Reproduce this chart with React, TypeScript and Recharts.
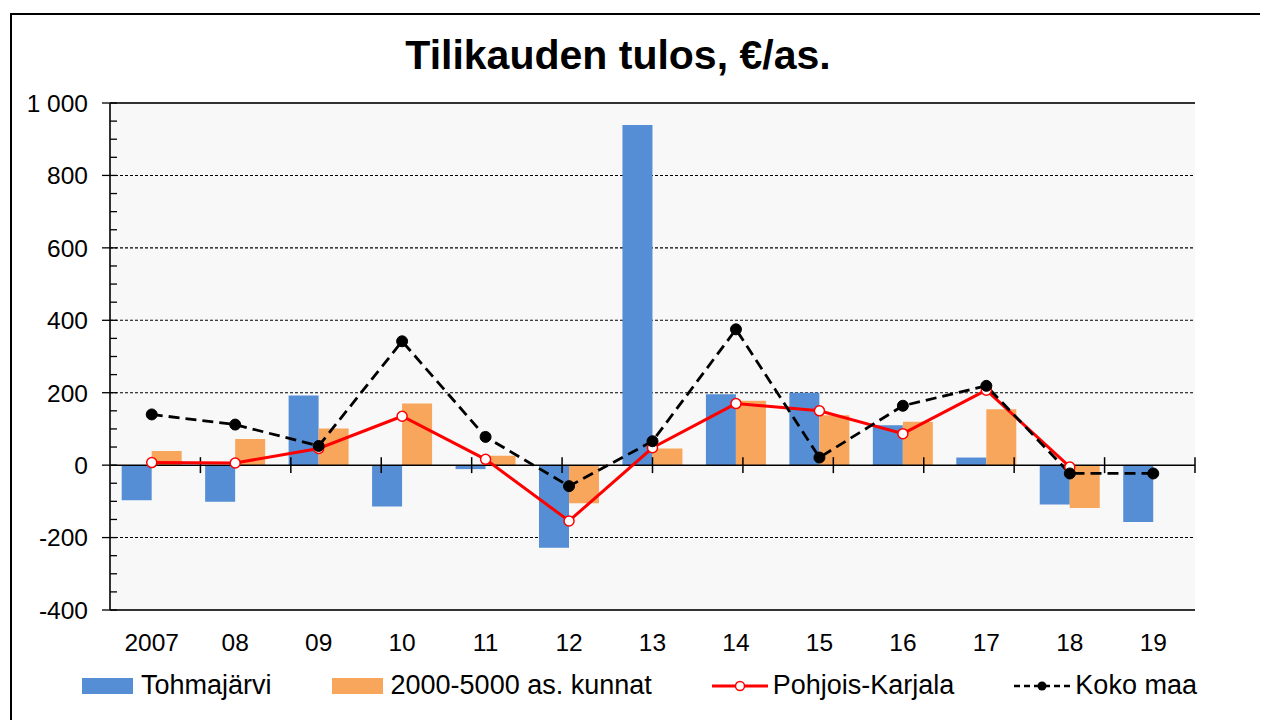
import React from 'react';
import {
  ComposedChart, Bar, Line, XAxis, YAxis, CartesianGrid, ReferenceLine, Legend,
} from 'recharts';

const years = ['2007', '08', '09', '10', '11', '12', '13', '14', '15', '16', '17', '18', '19'];
const tohmajarvi = [-97, -101, 192, -114, -11, -228, 939, 196, 200, 110, 21, -109, -157];
const kunnat = [39, 72, 101, 170, 26, -105, 46, 178, 138, 120, 154, -118, null];
const pohjoisKarjala = [7, 6, 46, 135, 16, -154, 48, 170, 150, 87, 207, -5, null];
const kokoMaa = [140, 112, 53, 342, 78, -58, 66, 375, 21, 164, 219, -23, -23];

const yDomain = [-400, 1000];
const majorTicks = [-400, -200, 0, 200, 400, 600, 800, 1000];
const gridValues = [-200, 200, 400, 600, 800];
const allTicks = [-400, -350, -300, -250, -200, -150, -100, -50, 0, 50, 100, 150, 200, 250, 300, 350, 400,
  450, 500, 550, 600, 650, 700, 750, 800, 850, 900, 950, 1000];
const boundaries = [1, 2, 3, 4, 5, 6, 7, 8, 9, 10, 11, 12];

const seriesNames = ['Tohmajärvi', '2000-5000 as. kunnat', 'Pohjois-Karjala', 'Koko maa'];

const data = years.map((year, i) => ({
  year,
  tohmajarvi: tohmajarvi[i],
  kunnat: kunnat[i],
  pohjois: pohjoisKarjala[i],
  koko: kokoMaa[i],
}));

const FONT = '"Liberation Sans", Arial, sans-serif';
const BLUE = '#558ED5';
const ORANGE = '#F9A65D';
const RED = '#FF0000';
const BORDER = '#333333';

const fmt = (v: number) => String(v).replace(/\B(?=(\d{3})+(?!\d))/g, ' ');

const YTick = (props: any) => {
  const { x, y, payload } = props;
  const v = payload.value as number;
  const major = majorTicks.includes(v);
  return (
    <g>
      <line x1={major ? x - 8 : x} x2={x + 7} y1={y} y2={y} stroke="#000" strokeWidth={1.3} />
      {major && (
        <text x={x - 22} y={y} dy="0.36em" textAnchor="end" fill="#000" fontSize={24.5} fontFamily={FONT}>
          {fmt(v)}
        </text>
      )}
    </g>
  );
};

const LegendIcon = ({ kind }: { kind: number }) => {
  if (kind === 0 || kind === 1) {
    return (
      <svg width={51} height={16} style={{ display: 'block' }}>
        <rect x={0} y={0} width={51} height={16} fill={kind === 0 ? BLUE : ORANGE} />
      </svg>
    );
  }
  if (kind === 2) {
    return (
      <svg width={56} height={16} style={{ display: 'block' }}>
        <line x1={0} y1={8} x2={56} y2={8} stroke={RED} strokeWidth={3} />
        <circle cx={28} cy={8} r={4.5} fill="#fff" stroke={RED} strokeWidth={1.5} />
      </svg>
    );
  }
  return (
    <svg width={56} height={16} style={{ display: 'block' }}>
      <line x1={0} y1={8} x2={56} y2={8} stroke="#000" strokeWidth={2.5} strokeDasharray="6 4" />
      <circle cx={28} cy={8} r={4.5} fill="#000" />
    </svg>
  );
};

const LegendContent = () => (
  <div style={{ display: 'flex', alignItems: 'center', paddingLeft: 74, fontFamily: FONT, fontSize: 27, color: '#000', whiteSpace: 'nowrap' }}>
    {seriesNames.map((name, i) => (
      <div key={name} style={{ display: 'flex', alignItems: 'center', marginRight: 60 }}>
        <LegendIcon kind={i} />
        <span style={{ marginLeft: i < 2 ? 8 : 5 }}>{name}</span>
      </div>
    ))}
  </div>
);

export default function App() {
  return (
    <div style={{ position: 'relative', width: 1260, height: 712, overflow: 'hidden', background: '#fff' }}>
      <div style={{ position: 'absolute', left: 2, top: 5, width: 1400, height: 900, border: '2px solid #000', boxSizing: 'border-box' }} />
      <div style={{ position: 'absolute', left: 0, top: 27, width: 1220, textAlign: 'center', fontFamily: FONT, fontWeight: 'bold', fontSize: 41, lineHeight: '41px', color: '#000' }}>
        Tilikauden tulos, €/as.
      </div>
      <div style={{ position: 'absolute', left: 0, top: 0 }}>
        <ComposedChart
          width={1260}
          height={712}
          data={data}
          margin={{ top: 95, right: 73, bottom: 0, left: 0 }}
          barCategoryGap="14%"
          barGap={0}
        >
          <CartesianGrid
            horizontal
            vertical={false}
            horizontalValues={gridValues}
            stroke="#000"
            strokeWidth={1.1}
            strokeDasharray="3 2"
            fill="#F8F8F8"
            fillOpacity={1}
          />
          <XAxis
            dataKey="year"
            height={110}
            axisLine={{ stroke: BORDER, strokeWidth: 2 }}
            tickLine={false}
            tickSize={0}
            tickMargin={24}
            tick={{ fill: '#000', fontSize: 24.5, fontFamily: FONT }}
            interval={0}
          />
          <XAxis xAxisId="n" type="number" domain={[0, 13]} hide />
          <YAxis
            type="number"
            domain={yDomain}
            ticks={allTicks}
            interval={0}
            width={102}
            axisLine={{ stroke: BORDER, strokeWidth: 2 }}
            tickLine={false}
            tickSize={0}
            tickMargin={0}
            tick={<YTick />}
            allowDataOverflow
          />
          <Bar dataKey="tohmajarvi" name={seriesNames[0]} fill={BLUE} isAnimationActive={false} />
          <Bar dataKey="kunnat" name={seriesNames[1]} fill={ORANGE} isAnimationActive={false} />
          <ReferenceLine y={yDomain[1]} stroke={BORDER} strokeWidth={2} />
          <ReferenceLine xAxisId="n" x={13} stroke={BORDER} strokeWidth={2} />
          <ReferenceLine y={0} stroke="#000" strokeWidth={1.5} />
          {boundaries.map((b) => (
            <ReferenceLine key={b} xAxisId="n" segment={[{ x: b, y: -22 }, { x: b, y: 22 }]} stroke="#000" strokeWidth={1.5} />
          ))}
          <Line
            type="linear"
            dataKey="pohjois"
            name={seriesNames[2]}
            stroke={RED}
            strokeWidth={3}
            dot={{ r: 5, fill: '#fff', stroke: RED, strokeWidth: 1.5 }}
            isAnimationActive={false}
          />
          <Line
            type="linear"
            dataKey="koko"
            name={seriesNames[3]}
            stroke="#000"
            strokeWidth={2.8}
            strokeDasharray="11 6"
            dot={{ r: 5.5, fill: '#000', stroke: '#000', strokeWidth: 1, strokeDasharray: 'none' }}
            isAnimationActive={false}
          />
          <Legend
            layout="horizontal"
            verticalAlign="middle"
            align="center"
            content={<LegendContent />}
            wrapperStyle={{ left: 0, top: 662, width: 1260 }}
          />
        </ComposedChart>
      </div>
    </div>
  );
}
